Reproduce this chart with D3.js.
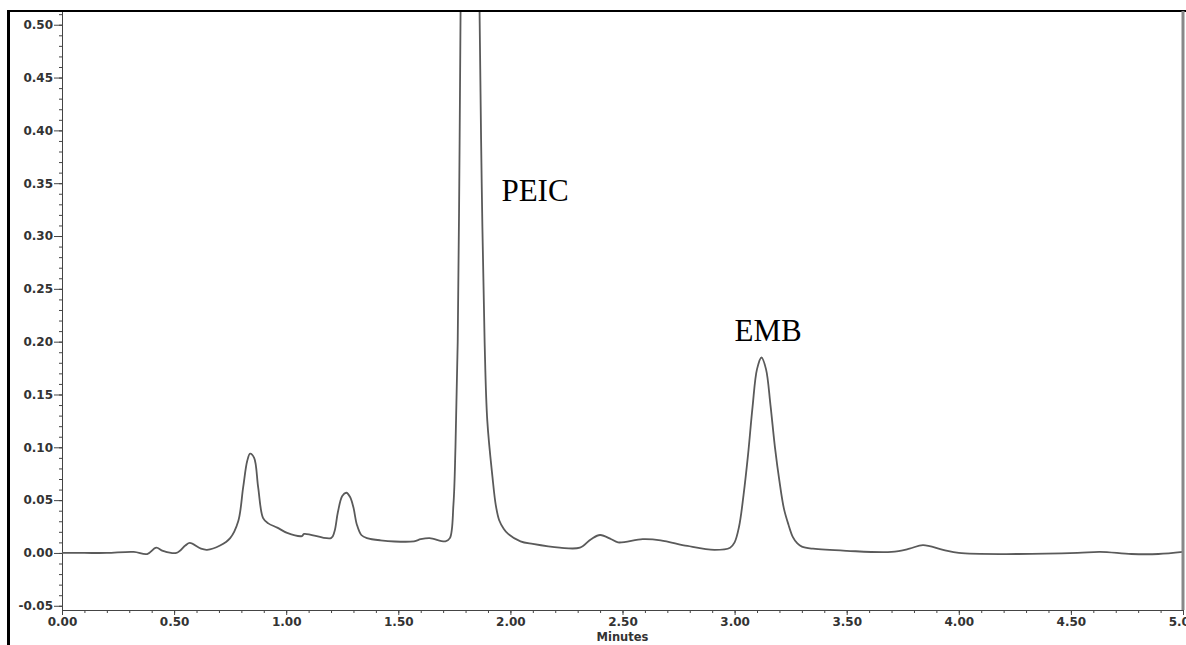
<!DOCTYPE html>
<html lang="en">
	<head>
		<meta charset="utf-8">
		<title>chromatogram PEIC / EMB</title>
		<script src="https://d3js.org/d3.v7.min.js"></script>
		<style type="text/css">
			body { margin: 0; background: #fff; }
			.axis text { font-family: "DejaVu Sans", sans-serif; font-weight: bold; font-size: 12px; fill: #333; }
			.axis path, .axis line { stroke: #444; }
		</style>
	</head>
	<body>
		<script type="text/javascript">
			// ================= data =================
			// retention time, minutes
			var times = [0.00, 0.10, 0.20, 0.32, 0.38, 0.42, 0.45, 0.51, 0.55, 0.57, 0.62, 0.647, 0.705, 0.75, 0.786,
				0.808, 0.826, 0.839, 0.857, 0.875, 0.897, 0.92, 0.96, 1.004, 1.07, 1.08, 1.20, 1.215, 1.23, 1.25,
				1.268, 1.285, 1.30, 1.315, 1.335, 1.36, 1.42, 1.57, 1.60, 1.64, 1.71, 1.73, 1.746, 1.755, 1.765,
				1.772, 1.778, 1.79, 1.815, 1.84, 1.862, 1.872, 1.885, 1.897, 1.92, 1.935, 1.95, 1.97, 1.99, 2.045,
				2.10, 2.22, 2.31, 2.36, 2.40, 2.45, 2.48, 2.59, 2.67, 2.79, 2.91, 2.98, 3.00, 3.02, 3.04,
				3.06, 3.08, 3.10, 3.12, 3.14, 3.16, 3.18, 3.20, 3.22, 3.24, 3.26, 3.28, 3.30, 3.35, 3.50,
				3.70, 3.78, 3.84, 3.93, 4.00, 4.26, 4.53, 4.63, 4.77, 4.89, 5.00];
			// absorbance, AU
			var absorb = [0.000, 0.000, 0.000, 0.001, -0.001, 0.005, 0.002, 0.000, 0.007, 0.0095, 0.004, 0.003, 0.007, 0.014, 0.030,
				0.062, 0.087, 0.094, 0.090, 0.062, 0.033, 0.028, 0.024, 0.019, 0.016, 0.018, 0.014, 0.020, 0.038, 0.054,
				0.057, 0.053, 0.043, 0.027, 0.017, 0.014, 0.012, 0.011, 0.013, 0.014, 0.011, 0.014, 0.046, 0.10, 0.20,
				0.35, 0.52, 0.80, 0.98, 0.85, 0.52, 0.35, 0.20, 0.125, 0.072, 0.045, 0.031, 0.023, 0.018, 0.011,
				0.0085, 0.005, 0.005, 0.013, 0.017, 0.013, 0.010, 0.013, 0.012, 0.0066, 0.003, 0.005, 0.010, 0.025, 0.055,
				0.093, 0.138, 0.174, 0.185, 0.174, 0.140, 0.100, 0.068, 0.042, 0.027, 0.015, 0.009, 0.006, 0.004, 0.002,
				0.001, 0.004, 0.0075, 0.003, 0.000, -0.001, 0.000, 0.001, -0.001, -0.001, 0.001];

			var xTickLabels = ["0.00", "0.50", "1.00", "1.50", "2.00", "2.50", "3.00", "3.50", "4.00", "4.50", "5.00"];
			var yTickLabels = ["-0.05", "0.00", "0.05", "0.10", "0.15", "0.20", "0.25", "0.30", "0.35", "0.40", "0.45", "0.50"];

			var peakNames = ["PEIC", "EMB"];
			var peakLabelX = [1.96, 3.0];       // minutes
			var peakLabelY = [0.333, 0.201];    // AU (baseline of text)

			// ================= setup =================
			var w = 1186;
			var h = 645;
			// ("top" is taken by window.top, so plot edges get a prefix)
			var plotL = 62, plotR = 1183, plotT = 11, plotB = 610;

			var xScale = d3.scaleLinear().domain([0, 5]).range([plotL, plotR]);
			var yScale = d3.scaleLinear().domain([-0.054, 0.513]).range([plotB, plotT]);

			var svg = d3.select("body")
						.append("svg")
						.attr("width", w)
						.attr("height", h);

			svg.append("clipPath").attr("id", "plotclip")
				.append("rect")
				.attr("x", plotL).attr("y", plotT)
				.attr("width", plotR - plotL).attr("height", plotB - plotT);

			// minor ticks
			var minorX = d3.range(0, 51).map(function(i) { return i / 10; });
			var minorY = d3.range(-5, 52).map(function(i) { return i / 100; });
			var majorX = xTickLabels.map(Number);
			var majorY = yTickLabels.map(Number);

			svg.append("g")
				.attr("class", "axis")
				.attr("transform", "translate(0," + plotB + ")")
				.call(d3.axisBottom(xScale).tickValues(minorX).tickSize(3).tickSizeOuter(0).tickFormat(""));

			svg.append("g")
				.attr("class", "axis")
				.attr("transform", "translate(0," + plotB + ")")
				.call(d3.axisBottom(xScale).tickValues(majorX).tickSize(5).tickSizeOuter(0)
					.tickFormat(function(d, i) { return xTickLabels[i]; }))
				.call(function(g) { g.selectAll("text").attr("y", 7); });

			svg.append("g")
				.attr("class", "axis")
				.attr("transform", "translate(" + plotL + ",0)")
				.call(d3.axisLeft(yScale).tickValues(minorY).tickSize(3).tickSizeOuter(0).tickFormat(""));

			svg.append("g")
				.attr("class", "axis")
				.attr("transform", "translate(" + plotL + ",0)")
				.call(d3.axisLeft(yScale).tickValues(majorY).tickSize(8).tickSizeOuter(0)
					.tickFormat(function(d, i) { return yTickLabels[i]; }))
				.call(function(g) { g.selectAll("text").attr("x", -9); });

			// axis title
			svg.append("text")
				.attr("x", (plotL + plotR) / 2)
				.attr("y", 641)
				.attr("text-anchor", "middle")
				.style("font-family", "DejaVu Sans, sans-serif")
				.style("font-weight", "bold")
				.style("font-size", "11.5px")
				.style("fill", "#333")
				.text("Minutes");

			// chromatogram trace
			var line = d3.line()
						.x(function(d, i) { return xScale(times[i]); })
						.y(function(d) { return yScale(d); })
						.curve(d3.curveCatmullRom.alpha(0.5));

			svg.append("path")
				.datum(absorb)
				.attr("clip-path", "url(#plotclip)")
				.attr("d", line)
				.attr("fill", "none")
				.attr("stroke", "#5a5a5a")
				.attr("stroke-width", 1.8);

			// peak labels
			svg.selectAll(".peak")
				.data(peakNames)
				.enter()
				.append("text")
				.attr("class", "peak")
				.attr("x", function(d, i) { return xScale(peakLabelX[i]); })
				.attr("y", function(d, i) { return yScale(peakLabelY[i]); })
				.style("font-family", "Liberation Serif, serif")
				.style("font-size", "31px")
				.style("fill", "#000")
				.text(function(d) { return d; });

			// frame
			svg.append("line").attr("x1", 7).attr("x2", w).attr("y1", plotT).attr("y2", plotT)
				.attr("stroke", "#000").attr("stroke-width", 2);
			svg.append("line").attr("x1", 8.5).attr("x2", 8.5).attr("y1", plotT - 1).attr("y2", h)
				.attr("stroke", "#000").attr("stroke-width", 3);
			svg.append("line").attr("x1", plotR).attr("x2", plotR).attr("y1", plotT).attr("y2", plotB)
				.attr("stroke", "#888").attr("stroke-width", 3);
		</script>
	</body>
</html>
